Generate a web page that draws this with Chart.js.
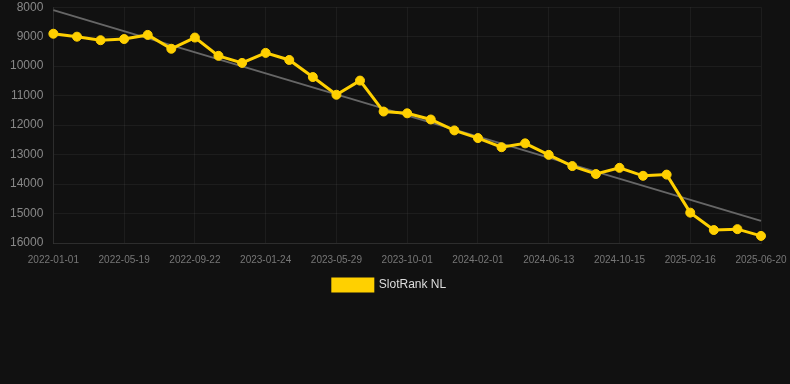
<!DOCTYPE html>
<html>
<head>
<meta charset="utf-8">
<script src="https://cdn.jsdelivr.net/npm/chart.js@4"></script>
<style>
html,body{margin:0;padding:0;background:#111111;overflow:hidden;}
#wrap{position:relative;width:790px;height:311px;margin-top:-10px;}
</style>
</head>
<body>
<div id="wrap"><canvas id="c"></canvas></div>
<script>
const categories = [
  "2022-01-01","2022-02-16","2022-04-03","2022-05-19","2022-07-02","2022-08-12",
  "2022-09-22","2022-11-03","2022-12-14","2023-01-24","2023-03-07","2023-04-18",
  "2023-05-29","2023-07-10","2023-08-21","2023-10-01","2023-11-11","2023-12-22",
  "2024-02-01","2024-03-16","2024-04-29","2024-06-13","2024-07-24","2024-09-03",
  "2024-10-15","2024-11-25","2025-01-06","2025-02-16","2025-03-30","2025-05-10",
  "2025-06-20"
];
const slotRankNL = [
  8900, 9000, 9120, 9080, 8940, 9410, 9030, 9650, 9890, 9550, 9790, 10370,
  10970, 10490, 11540, 11600, 11810, 12180, 12440, 12750, 12620, 13010, 13390,
  13660, 13450, 13720, 13680, 14970, 15560, 15530, 15760
];
const trendValues = [8100, 15250];
const yTicks = [8000, 16000, 1000];

const trendData = categories.map((_, i) =>
  i === 0 ? trendValues[0] : (i === categories.length - 1 ? trendValues[1] : null));

new Chart(document.getElementById('c'), {
  type: 'line',
  data: {
    labels: categories,
    datasets: [
      {
        label: 'SlotRank NL',
        data: slotRankNL,
        borderColor: '#FFD000',
        backgroundColor: '#FFD000',
        borderWidth: 3,
        pointRadius: 4.5,
        pointHoverRadius: 5,
        pointBorderWidth: 1,
        pointBackgroundColor: '#FFD000',
        pointBorderColor: '#FFD000',
        tension: 0,
        order: 1
      },
      {
        label: 'Trend',
        data: trendData,
        spanGaps: true,
        borderColor: '#666666',
        borderWidth: 2,
        pointRadius: 0,
        pointHoverRadius: 0,
        tension: 0,
        order: 2
      }
    ]
  },
  options: {
    responsive: true,
    maintainAspectRatio: false,
    animation: false,
    layout: { padding: { left: 0, right: 11, top: 0, bottom: 0 } },
    plugins: {
      legend: {
        position: 'bottom',
        labels: {
          color: '#dddddd',
          font: { size: 12 },
          boxWidth: 40,
          boxHeight: 12,
          padding: 2,
          filter: (item) => item.text !== 'Trend'
        }
      },
      tooltip: { enabled: false }
    },
    scales: {
      x: {
        grid: { color: 'rgba(255,255,255,0.05)', drawTicks: false },
        border: { color: 'rgba(255,255,255,0.08)' },
        afterFit: (scale) => { scale.paddingRight = 29; },
        ticks: {
          color: '#777777',
          font: { size: 10 },
          autoSkip: true,
          maxRotation: 0,
          padding: 11
        }
      },
      y: {
        reverse: true,
        min: yTicks[0],
        max: yTicks[1],
        grid: { color: 'rgba(255,255,255,0.05)', drawTicks: false },
        border: { color: 'rgba(255,255,255,0.08)' },
        ticks: {
          stepSize: yTicks[2],
          color: '#888888',
          font: { size: 12 },
          padding: 10,
          callback: (v) => String(v)
        }
      }
    }
  }
});
</script>
</body>
</html>
